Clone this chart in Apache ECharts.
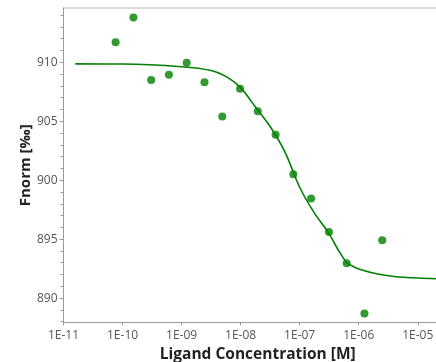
<!DOCTYPE html>
<html>
<head>
<meta charset="utf-8">
<style>
  html, body { margin: 0; padding: 0; background: #fff; }
  #chart { width: 436px; height: 362px; }
</style>
<script src="https://cdn.jsdelivr.net/npm/echarts@6/dist/echarts.min.js"></script>
</head>
<body>
<div id="chart"></div>
<script>
// Measured ligand concentrations [M] (two-fold dilution series)
const concentrations = [7.63e-11, 1.53e-10, 3.05e-10, 6.1e-10, 1.22e-9, 2.44e-9, 4.88e-9, 9.77e-9,
                        1.95e-8, 3.91e-8, 7.81e-8, 1.56e-7, 3.13e-7, 6.25e-7, 1.25e-6, 2.5e-6];
// Normalized fluorescence [‰] at each concentration
const fnorm = [911.7, 913.8, 908.5, 908.95, 909.95, 908.3, 905.4, 907.75,
               905.85, 903.85, 900.5, 898.45, 895.6, 892.95, 888.7, 894.9];

// Fitted dose-response curve, sampled along the concentration axis
const fitConc = [1.58e-11, 1e-10, 1e-9, 3.16e-9, 5.62e-9, 1e-8, 1.78e-8, 3.16e-8, 5.62e-8,
                 1e-7, 1.78e-7, 3.16e-7, 4.47e-7, 6.31e-7, 7.94e-7, 1e-6, 2e-6, 3.98e-6, 1e-5, 3.8e-5];
const fitFnorm = [909.86, 909.85, 909.62, 909.3, 908.8, 907.85, 906.2, 904.55, 902.4,
                  899.4, 897.2, 895.45, 894.1, 893.0, 892.7, 892.47, 892.06, 891.83, 891.7, 891.6];

const yLabelTicks = [890, 895, 900, 905, 910];
const yMinorTicks = [888, 889, 890, 891, 892, 893, 894, 895, 896, 897, 898, 899, 900, 901,
                     902, 903, 904, 905, 906, 907, 908, 909, 910, 911, 912, 913, 914];

const FONT = '"Open Sans", "DejaVu Sans", sans-serif';
const AXIS_GREY = '#9a9a9a';
const GREEN = '#007f00';

const pointData = concentrations.map((c, i) => [c, fnorm[i]]);
const fitData = fitConc.map((c, i) => [c, fitFnorm[i]]);

function sciLabel(v) {
  const e = Math.round(Math.log10(v));
  const a = Math.abs(e);
  return '1E' + (e < 0 ? '-' : '+') + (a < 10 ? '0' + a : String(a));
}

const chart = echarts.init(document.getElementById('chart'), null, { renderer: 'canvas' });
chart.setOption({
  animation: false,
  backgroundColor: '#fff',
  grid: {
    left: 63.5, top: 8, bottom: 39.5, right: -16,
    containLabel: false,
    outerBoundsMode: 'none',
    show: true, borderColor: '#b5b5b5', borderWidth: 1, backgroundColor: 'transparent'
  },
  xAxis: {
    type: 'log',
    logBase: 10,
    min: 1e-11,
    max: 3.8e-5,
    name: 'Ligand Concentration [M]',
    nameLocation: 'middle',
    nameGap: 23,
    nameTextStyle: { fontFamily: FONT, fontSize: 15.5, fontWeight: 'bold', color: '#222' },
    axisLine: { show: true, lineStyle: { color: AXIS_GREY, width: 1 } },
    axisTick: { show: true, length: 3, lineStyle: { color: AXIS_GREY } },
    axisLabel: { fontFamily: FONT, fontSize: 12, color: '#555', margin: 7, formatter: sciLabel },
    splitLine: { show: false },
    minorTick: { show: false }
  },
  yAxis: [
    {
      type: 'value',
      min: 887.93,
      max: 914.6,
      name: 'Fnorm [‰]',
      nameLocation: 'middle',
      nameGap: 30,
      nameMoveOverlap: false,
      nameTextStyle: { fontFamily: FONT, fontSize: 15, fontWeight: 'bold', color: '#222' },
      axisLine: { show: true, lineStyle: { color: AXIS_GREY, width: 1 } },
      axisTick: { show: true, length: 4, customValues: yLabelTicks, lineStyle: { color: AXIS_GREY } },
      axisLabel: { fontFamily: FONT, fontSize: 12, color: '#555', margin: 6, customValues: yLabelTicks },
      splitLine: { show: false }
    },
    {
      type: 'value',
      position: 'left',
      min: 887.93,
      max: 914.6,
      axisLine: { show: false },
      axisTick: { show: true, length: 3, customValues: yMinorTicks, lineStyle: { color: AXIS_GREY } },
      axisLabel: { show: false },
      splitLine: { show: false }
    }
  ],
  series: [
    {
      type: 'line',
      data: fitData,
      yAxisIndex: 0,
      smooth: 0.3,
      showSymbol: false,
      symbol: 'none',
      lineStyle: { color: GREEN, width: 1.6 },
      z: 2
    },
    {
      type: 'scatter',
      data: pointData,
      yAxisIndex: 0,
      symbol: 'circle',
      symbolSize: 8,
      itemStyle: { color: GREEN },
      z: 3
    }
  ]
});
</script>
</body>
</html>
